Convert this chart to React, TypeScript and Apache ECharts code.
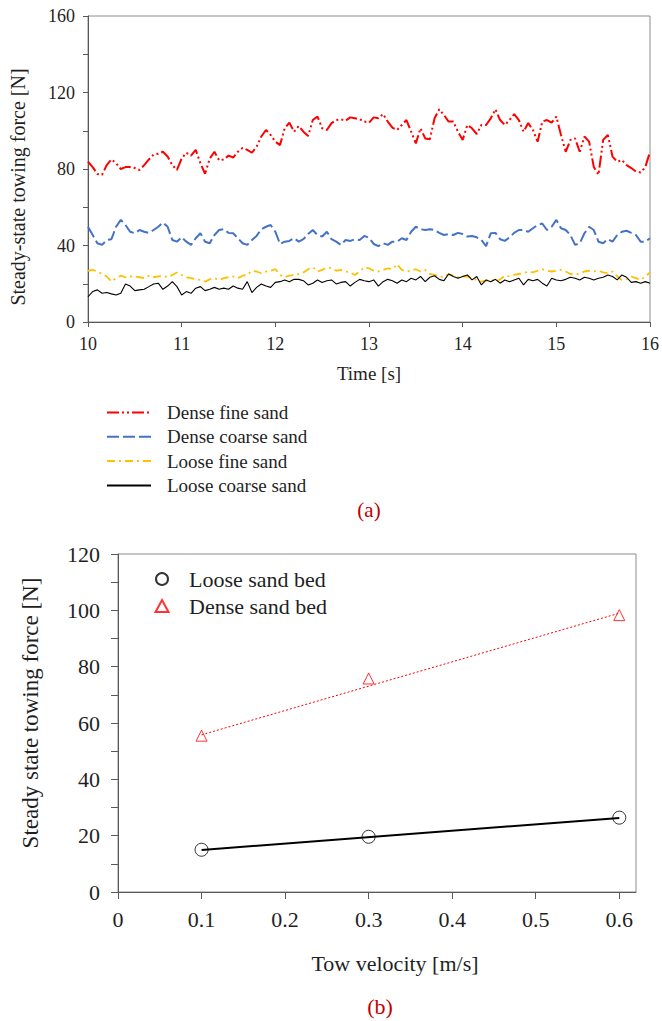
import React, { useEffect, useRef } from 'react';
import * as echarts from 'echarts';

// ---------- (a) steady-state towing force time histories ----------
const time = [
  10, 10.05, 10.1, 10.15, 10.2, 10.25, 10.3, 10.35, 10.4, 10.45,
  10.5, 10.55, 10.6, 10.65, 10.7, 10.75, 10.8, 10.85, 10.9, 10.95,
  11, 11.05, 11.1, 11.15, 11.2, 11.25, 11.3, 11.35, 11.4, 11.45,
  11.5, 11.55, 11.6, 11.65, 11.7, 11.75, 11.8, 11.85, 11.9, 11.95,
  12, 12.05, 12.1, 12.15, 12.2, 12.25, 12.3, 12.35, 12.4, 12.45,
  12.5, 12.55, 12.6, 12.65, 12.7, 12.75, 12.8, 12.85, 12.9, 12.95,
  13, 13.05, 13.1, 13.15, 13.2, 13.25, 13.3, 13.35, 13.4, 13.45,
  13.5, 13.55, 13.6, 13.65, 13.7, 13.75, 13.8, 13.85, 13.9, 13.95,
  14, 14.05, 14.1, 14.15, 14.2, 14.25, 14.3, 14.35, 14.4, 14.45,
  14.5, 14.55, 14.6, 14.65, 14.7, 14.75, 14.8, 14.85, 14.9, 14.95,
  15, 15.05, 15.1, 15.15, 15.2, 15.25, 15.3, 15.35, 15.4, 15.45,
  15.5, 15.55, 15.6, 15.65, 15.7, 15.75, 15.8, 15.85, 15.9, 15.95,
  16,
];

const denseFine = [
  83.8, 81, 77.4, 77, 82, 85, 83, 80, 81, 81,
  80.5, 79.5, 82, 85, 87.5, 88, 89, 86.5, 82, 79.5,
  85.5, 88.5, 87, 90, 83, 77.5, 85.5, 89, 84.5, 85,
  87, 86, 89, 91, 90, 88.5, 91.7, 97, 100.4, 97.8,
  94.3, 92.5, 101.3, 104.2, 99.5, 102.5, 99.5, 97.3, 105.6, 107.4,
  101.3, 100.4, 104, 105.6, 106, 105.3, 107, 106.5, 106, 104.8,
  104.2, 107, 106.5, 108.7, 104.8, 101.6, 100.4, 103, 105.6, 99.5,
  93.4, 101.3, 96, 95.6, 106.5, 111.2, 108.2, 104.8, 104.8, 99.5,
  95.2, 103, 101.3, 98.3, 103, 103, 106.5, 111.2, 105.6, 103,
  105.6, 108.7, 105.6, 99.5, 104, 100.4, 94.3, 104.8, 105.6, 104.2,
  107.4, 97.8, 89, 95.2, 96, 89, 97, 94.3, 81, 77,
  95.2, 97.8, 86.5, 83.8, 84.7, 82, 80.5, 78.7, 78.2, 81,
  89,
];

const denseCoarse = [
  49.8, 45.5, 41.2, 40.3, 42.9, 43.3, 49.8, 53.4, 50.7, 47.2,
  46.4, 48.1, 47.2, 46.6, 48.1, 49.8, 52, 49.8, 42.9, 42,
  44.3, 42, 40.3, 43.8, 46.4, 42, 41.2, 45.5, 48.1, 48.5,
  46.6, 46.4, 43.8, 41.2, 40.3, 42.9, 45, 48.5, 49.8, 50.7,
  47.2, 40.8, 42, 42.4, 43.8, 42, 43.3, 46, 48.1, 45.5,
  44.7, 47.2, 43.3, 42, 40.3, 42.9, 42.4, 43.3, 42.9, 45,
  44, 40.8, 39.7, 41.2, 40.3, 42, 42, 43.8, 42.9, 47.2,
  49.8, 48.5, 48.1, 48.5, 48.1, 46.6, 45.5, 46, 45.5, 46.6,
  46, 44.7, 45, 44.3, 42.9, 39.7, 46.4, 46.6, 43.3, 42.4,
  44.3, 46.6, 48.1, 48.1, 47.2, 49, 50.7, 51.5, 48.1, 49.8,
  53.4, 49, 48.1, 45.5, 40.3, 41.2, 46.4, 49.8, 48.1, 42,
  41.2, 43.3, 42, 45.5, 47.2, 47.7, 46.6, 45.5, 42, 42,
  43.8,
];

const looseFine = [
  26.8, 27.2, 26.4, 25.1, 23.8, 21.1, 22.9, 24.2, 23.4, 23.8,
  23.8, 23.4, 22.9, 24.2, 23.4, 23.8, 24.2, 23.4, 24.6, 25.9,
  24.6, 23.4, 22.9, 22.3, 22, 21.1, 22.3, 22.9, 22, 22.9,
  23.4, 23.8, 22.9, 24.2, 24.6, 26.8, 26.4, 25.5, 26.4, 26.8,
  27.6, 24.6, 23.4, 24.2, 24.6, 25.1, 25.9, 27.6, 28.6, 26.4,
  27.2, 28.6, 28.1, 26.8, 27.2, 26.4, 25.9, 24.6, 26.4, 28.6,
  28.1, 26.8, 26.4, 27.2, 28.1, 27.6, 30.3, 27.2, 26.4, 26.8,
  27.6, 26.4, 27.2, 25.1, 24.6, 23.8, 23.4, 25.1, 24.2, 23.4,
  23.8, 23.8, 22.9, 22, 21.1, 21.6, 22.3, 21.1, 22.3, 24.2,
  23.8, 24.6, 25.1, 25.5, 26.4, 25.9, 26.8, 27.6, 26.8, 26.4,
  26.8, 27.2, 26.4, 25.1, 24.6, 25.5, 26.4, 26.8, 26.4, 26.8,
  25.9, 25.5, 26.4, 23.8, 22, 22.3, 23.8, 22.9, 22, 23.8,
  25.9,
];

const looseCoarse = [
  13.2, 15.9, 16.8, 15, 15.4, 14.7, 14.1, 15, 19.9, 18.8,
  16.4, 16.8, 17.1, 18.5, 19.9, 20.3, 17.1, 18.8, 21.1, 18.5,
  14.1, 15.9, 15, 17.7, 18.5, 16.4, 17.1, 18.1, 17.1, 17.7,
  17.1, 18.8, 17.7, 17.1, 21.1, 15.4, 18.1, 19.9, 18.8, 18.1,
  20.7, 21.1, 22, 21.1, 22.3, 22.3, 21.6, 19.4, 20.3, 22,
  20.7, 21.6, 22, 19.9, 20.7, 21.1, 18.8, 20.7, 22.3, 21.6,
  21.1, 22, 18.8, 21.1, 22.3, 21.6, 20.3, 22, 21.1, 22.9,
  22, 23.8, 21.1, 23.4, 24.2, 22.3, 21.6, 25.1, 23.8, 22.9,
  23.8, 24.6, 22, 23.8, 19.4, 22, 21.1, 22.3, 20.3, 22,
  21.1, 22, 22.9, 19.4, 22.3, 21.6, 22.3, 20.3, 18.8, 22.9,
  22, 21.6, 22.3, 23.4, 22.9, 22, 23.4, 22.9, 22, 22.9,
  23.4, 24.6, 23.8, 22, 24.6, 23.4, 20.7, 21.1, 20.3, 21.1,
  20.3,
];

// ---------- (b) steady state towing force vs tow velocity ----------
const velocity = [0.1, 0.3, 0.6];
const looseBed = [15.0, 19.6, 26.4];
const denseBed = [55.5, 75.8, 98.3];
const fitVelocity = [0.1, 0.6];
const looseFit = [14.9, 26.3];
const denseFit = [55.8, 99.0];
const velocityTicks = [0, 0.1, 0.2, 0.3, 0.4, 0.5, 0.6];

const FONT = '"Liberation Serif", "Times New Roman", serif';
const TEXT = '#1f1f1f';
const AXIS = '#595959';
const BORDER = '#8c8c8c';

const pairs = (xs: number[], ys: number[]) => xs.map((x, i) => [x, ys[i]]);

export default function App() {
  const ref = useRef<HTMLDivElement>(null);

  useEffect(() => {
    if (!ref.current) return;
    const chart = echarts.init(ref.current, null, { renderer: 'svg' });

    const axisCommon = (fontSize: number, tickLen: number, margin: number) => ({
      axisLine: { show: true, lineStyle: { color: AXIS, width: 1 } },
      axisTick: { show: true, inside: false, length: tickLen, lineStyle: { color: AXIS } },
      axisLabel: { color: TEXT, fontFamily: FONT, fontSize, margin },
      splitLine: { show: false },
    });

    const topX = axisCommon(18, 5, 13);
    const topY = axisCommon(18, 5, 13);
    const botX = axisCommon(22, 7, 16);
    const botY = axisCommon(22, 7, 18);

    const option: any = {
      animation: false,
      backgroundColor: '#ffffff',
      grid: [
        { left: 86, top: 16, width: 567, height: 306, show: true, borderColor: BORDER, borderWidth: 1, backgroundColor: 'transparent' },
        { left: 118, top: 554, width: 518, height: 338, show: true, borderColor: BORDER, borderWidth: 1, backgroundColor: 'transparent' },
      ],
      xAxis: [
        {
          ...topX,
          type: 'value', gridIndex: 0, min: 10, max: 16, interval: 1,
          name: 'Time [s]', nameLocation: 'middle', nameGap: 42,
          nameTextStyle: { color: TEXT, fontFamily: FONT, fontSize: 19 },
        },
        {
          ...botX,
          type: 'value', gridIndex: 1, min: 0, max: 0.62,
          axisTick: { ...botX.axisTick, customValues: velocityTicks },
          axisLabel: {
            ...botX.axisLabel,
            customValues: velocityTicks,
            formatter: (v: number) => (v === 0 ? '0' : v.toFixed(1)),
          },
          name: 'Tow velocity [m/s]', nameLocation: 'middle', nameGap: 60,
          nameTextStyle: { color: TEXT, fontFamily: FONT, fontSize: 22, padding: [0, 0, 0, 36] },
        },
      ],
      yAxis: [
        {
          ...topY,
          type: 'value', gridIndex: 0, min: 0, max: 160, interval: 20,
          axisLabel: { ...topY.axisLabel, formatter: (v: number) => (v % 40 === 0 ? String(v) : '') },
          name: 'Steady-state towing force [N]', nameLocation: 'middle', nameGap: 60,
          nameTextStyle: { color: TEXT, fontFamily: FONT, fontSize: 20, padding: [0, 36, 0, 0] },
        },
        {
          ...botY,
          type: 'value', gridIndex: 1, min: 0, max: 120, interval: 10,
          axisLabel: { ...botY.axisLabel, formatter: (v: number) => (v % 20 === 0 ? String(v) : '') },
          name: 'Steady state towing force [N]', nameLocation: 'middle', nameGap: 76,
          nameTextStyle: { color: TEXT, fontFamily: FONT, fontSize: 23, padding: [0, 0, 0, 20] },
        },
      ],
      legend: [
        {
          data: ['Dense fine sand', 'Dense coarse sand', 'Loose fine sand', 'Loose coarse sand'],
          orient: 'vertical', left: 106, top: 403, padding: 0,
          itemWidth: 44, itemHeight: 14, itemGap: 5.3,
          itemStyle: { opacity: 0 },
          textStyle: { color: TEXT, fontFamily: FONT, fontSize: 19, lineHeight: 19, padding: [0, 0, 0, 11] },
          selectedMode: false,
        },
        {
          data: ['Loose sand bed', 'Dense sand bed'],
          orient: 'vertical', left: 154.5, top: 568, padding: 0,
          itemWidth: 13, itemHeight: 12, itemGap: 5,
          textStyle: { color: TEXT, fontFamily: FONT, fontSize: 22, lineHeight: 22, padding: [0, 0, 0, 15.5] },
          selectedMode: false,
        },
      ],
      series: [
        {
          name: 'Dense fine sand', type: 'line', xAxisIndex: 0, yAxisIndex: 0,
          data: pairs(time, denseFine), symbol: 'none', color: '#ff0000',
          lineStyle: { color: '#ff0000', width: 2, type: [12, 3, 2, 3, 2, 3] },
        },
        {
          name: 'Dense coarse sand', type: 'line', xAxisIndex: 0, yAxisIndex: 0,
          data: pairs(time, denseCoarse), symbol: 'none', color: '#4472c4',
          lineStyle: { color: '#4472c4', width: 2, type: [12, 4] },
        },
        {
          name: 'Loose fine sand', type: 'line', xAxisIndex: 0, yAxisIndex: 0,
          data: pairs(time, looseFine), symbol: 'none', color: '#ffc000',
          lineStyle: { color: '#ffc000', width: 1.8, type: [8, 4, 2, 4] },
        },
        {
          name: 'Loose coarse sand', type: 'line', xAxisIndex: 0, yAxisIndex: 0,
          data: pairs(time, looseCoarse), symbol: 'none', color: '#000000',
          lineStyle: { color: '#000000', width: 1.1, type: 'solid' },
        },
        {
          name: 'Loose fit', type: 'line', xAxisIndex: 1, yAxisIndex: 1,
          data: pairs(fitVelocity, looseFit), symbol: 'none', z: 1,
          lineStyle: { color: '#000000', width: 2, type: 'solid' },
        },
        {
          name: 'Dense fit', type: 'line', xAxisIndex: 1, yAxisIndex: 1,
          data: pairs(fitVelocity, denseFit), symbol: 'none', z: 1,
          lineStyle: { color: '#ff0000', width: 1, type: [2, 2] },
        },
        {
          name: 'Loose sand bed', type: 'scatter', xAxisIndex: 1, yAxisIndex: 1,
          data: pairs(velocity, looseBed), symbol: 'circle', symbolSize: 13, z: 3,
          itemStyle: { color: 'rgba(255,255,255,0)', borderColor: '#000000', borderWidth: 1 },
        },
        {
          name: 'Dense sand bed', type: 'scatter', xAxisIndex: 1, yAxisIndex: 1,
          data: pairs(velocity, denseBed), symbol: 'triangle', symbolSize: 11, z: 3,
          itemStyle: { color: 'rgba(255,255,255,0)', borderColor: '#ff0000', borderWidth: 1 },
        },
      ],
      graphic: [
        {
          type: 'text', x: 369, y: 510,
          style: { text: '(a)', fill: '#c00000', fontFamily: FONT, fontSize: 21, align: 'center', verticalAlign: 'middle' },
        },
        {
          type: 'text', x: 380, y: 1006,
          style: { text: '(b)', fill: '#c00000', fontFamily: FONT, fontSize: 22, align: 'center', verticalAlign: 'middle' },
        },
      ],
    };

    chart.setOption(option);
    return () => chart.dispose();
  }, []);

  return (
    <div
      ref={ref}
      style={{ position: 'absolute', left: 0, top: 0, width: 662, height: 1021, background: '#fff' }}
    />
  );
}
